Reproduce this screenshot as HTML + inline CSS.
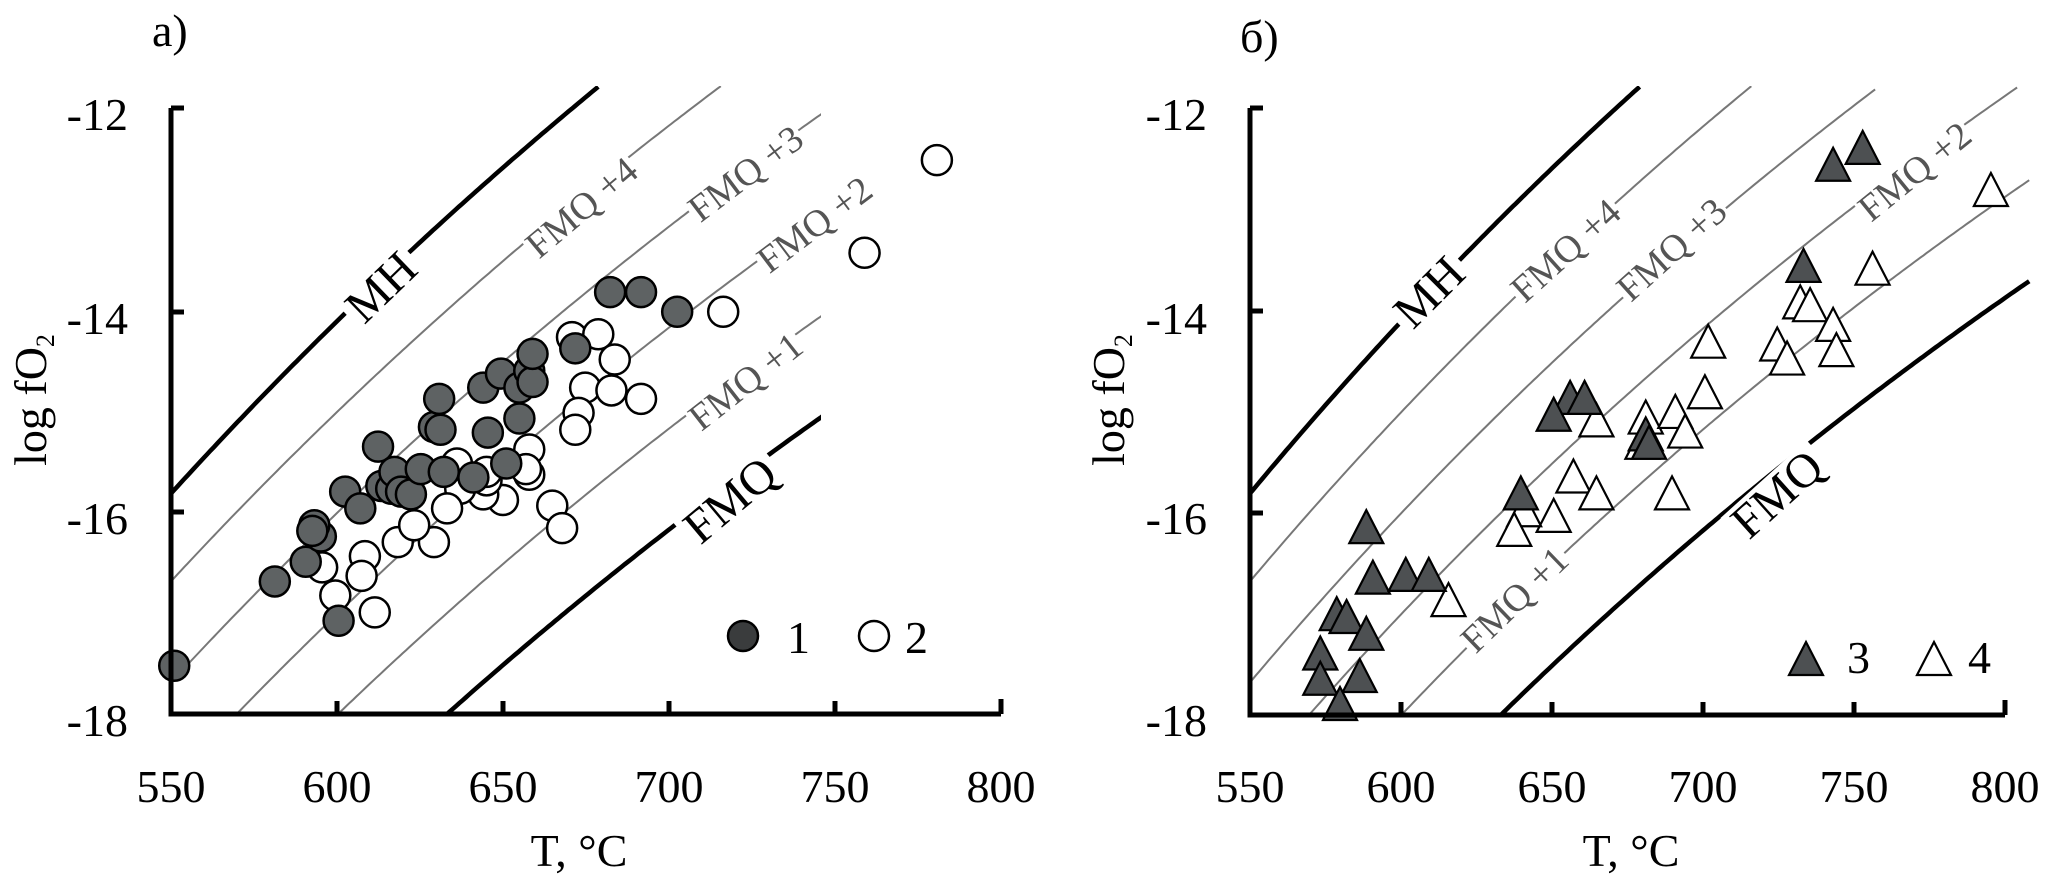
<!DOCTYPE html>
<html><head><meta charset="utf-8"><style>
html,body{margin:0;padding:0;background:#fff;overflow:hidden;width:2062px;height:882px;}
svg{display:block;}
</style></head><body>
<svg id="s" width="2062" height="882" viewBox="0 0 2062 882" xmlns="http://www.w3.org/2000/svg" font-family="'Liberation Serif','Times New Roman',serif">
<defs>
<clipPath id="ca"><rect x="171" y="86" width="650" height="628"/></clipPath>
<clipPath id="cb"><rect x="1250" y="86" width="790" height="629"/></clipPath>
</defs>
<g id="curves"></g>
<g id="labels" text-anchor="middle">
<g transform="translate(381 287) rotate(-44)"><rect x="-44" y="-20" width="88" height="40" fill="#fff"/><text y="16" font-size="48">MH</text></g>
<g transform="translate(582 208) rotate(-40)"><rect x="-68" y="-15" width="136" height="30" fill="#fff"/><text y="12" font-size="38" fill="#555">FMQ +4</text></g>
<g transform="translate(746 174) rotate(-37)"><rect x="-68" y="-15" width="136" height="30" fill="#fff"/><text y="12" font-size="38" fill="#555">FMQ +3</text></g>
<g transform="translate(815 225) rotate(-37)"><rect x="-68" y="-15" width="136" height="30" fill="#fff"/><text y="12" font-size="38" fill="#555">FMQ +2</text></g>
<g transform="translate(746 382) rotate(-38)"><rect x="-68" y="-15" width="136" height="30" fill="#fff"/><text y="12" font-size="38" fill="#555">FMQ +1</text></g>
<g transform="translate(730 500) rotate(-40)"><rect x="-58" y="-20" width="116" height="40" fill="#fff"/><text y="16" font-size="48">FMQ</text></g>
<g transform="translate(1429 292) rotate(-45)"><rect x="-44" y="-20" width="88" height="40" fill="#fff"/><text y="16" font-size="48">MH</text></g>
<g transform="translate(1566 251) rotate(-42)"><rect x="-68" y="-15" width="136" height="30" fill="#fff"/><text y="12" font-size="38" fill="#555">FMQ +4</text></g>
<g transform="translate(1672 250) rotate(-42)"><rect x="-68" y="-15" width="136" height="30" fill="#fff"/><text y="12" font-size="38" fill="#555">FMQ +3</text></g>
<g transform="translate(1915 172) rotate(-39)"><rect x="-68" y="-15" width="136" height="30" fill="#fff"/><text y="12" font-size="38" fill="#555">FMQ +2</text></g>
<g transform="translate(1515 600) rotate(-44)"><rect x="-68" y="-15" width="136" height="30" fill="#fff"/><text y="12" font-size="38" fill="#555">FMQ +1</text></g>
<g transform="translate(1777 494) rotate(-42)"><rect x="-58" y="-20" width="116" height="40" fill="#fff"/><text y="16" font-size="48">FMQ</text></g>
</g>
<g id="pts"></g>
<g id="axes" stroke="#000" stroke-width="5" fill="none">
<path d="M171 108 V714 H1001"/>
<path d="M171 108 H184 M171 312 H184 M171 512 H184 M337 714 V701 M503 714 V701 M669 714 V701 M835 714 V701 M1001 714 V699"/>
<path d="M1250 108 V715 H2005"/>
<path d="M1250 108 H1263 M1250 311 H1263 M1250 513 H1263 M1401 715 V702 M1552 715 V702 M1703 715 V702 M1854 715 V702 M2005 715 V700"/>
</g>
<g font-size="46" fill="#000">
<text x="128" y="130" text-anchor="end">-12</text>
<text x="128" y="334" text-anchor="end">-14</text>
<text x="128" y="534" text-anchor="end">-16</text>
<text x="128" y="736" text-anchor="end">-18</text>
<g text-anchor="middle">
<text x="171" y="802">550</text><text x="337" y="802">600</text><text x="503" y="802">650</text>
<text x="669" y="802">700</text><text x="835" y="802">750</text><text x="1001" y="802">800</text>
<text x="579" y="866">T, °C</text>
</g>
<text x="1207" y="130" text-anchor="end">-12</text>
<text x="1207" y="334" text-anchor="end">-14</text>
<text x="1207" y="534" text-anchor="end">-16</text>
<text x="1207" y="736" text-anchor="end">-18</text>
<g text-anchor="middle">
<text x="1250" y="802">550</text><text x="1401" y="802">600</text><text x="1552" y="802">650</text>
<text x="1703" y="802">700</text><text x="1854" y="802">750</text><text x="2005" y="802">800</text>
<text x="1631" y="866">T, °C</text>
</g>
<text transform="translate(46 400) rotate(-90)" text-anchor="middle">log fO<tspan font-size="26" dy="8">2</tspan></text>
<text transform="translate(1124 400) rotate(-90)" text-anchor="middle">log fO<tspan font-size="26" dy="8">2</tspan></text>
<text x="152" y="46">a)</text>
<text x="1240" y="52">б)</text>
<text x="787" y="653">1</text>
<text x="905" y="653">2</text>
<text x="1847" y="673">3</text>
<text x="1968" y="673">4</text>
</g>
</svg>
<script>
(function(){
var NS="http://www.w3.org/2000/svg";
var cg=document.getElementById('curves'), pg=document.getElementById('pts');
function el(n,a,p){var e=document.createElementNS(NS,n);for(var k in a)e.setAttribute(k,a[k]);p.appendChild(e);return e;}
var panels=[{x0:171,k:3.312,clip:'url(#ca)'},{x0:1250,k:3.02,clip:'url(#cb)'}];
function fmq(T,o){return -24050/(T+273.15)+8.53+o;}
function mh(T){return -24470/(T+273.15)+13.91;}
panels.forEach(function(P){
  var g=el('g',{'clip-path':P.clip,fill:'none'},cg);
  var curves=[[function(T){return mh(T);},'#000',4.5,679],
   [function(T){return fmq(T,4);},'#777',2,717],
   [function(T){return fmq(T,3);},'#777',2,757],
   [function(T){return fmq(T,2);},'#777',2,808],
   [function(T){return fmq(T,1);},'#777',2,808],
   [function(T){return fmq(T,0);},'#000',4.5,808]];
  curves.forEach(function(c){
    var d='';
    for(var T=545;T<=c[3];T+=1){
      var L=c[0](T); if(L>-11.78) break;
      var x=P.x0+(T-550)*P.k, y=108+(-12-L)*101;
      d+=(d?'L':'M')+x.toFixed(1)+' '+y.toFixed(1);
    }
    el('path',{d:d,stroke:c[1],'stroke-width':c[2]},g);
  });
});
var fa=[[265,1185],[418,1035],[465,1000],[488,955],[478,935],[475,945],[515,1105],[525,875],[548,905],[575,795],[580,865],[595,870],[600,840],[610,875],[625,880],[640,835],[660,760],[668,710],[670,765],[675,840],[720,850],[735,690],[742,770],[762,665],[770,825],[790,745],[790,690],[805,660],[810,680],[810,630],[875,620],[928,520],[975,520],[1030,555]];
var oa=[[1100,555],[1315,450],[1425,285],[870,600],[910,595],[935,640],[890,690],[930,695],[975,710],[880,735],[875,765],[805,800],[805,845],[840,900],[855,940],[765,890],[735,880],[700,870],[680,905],[660,965],[605,965],[630,935],[555,990],[550,1025],[510,1060],[490,1010],[570,1090],[695,825],[740,855],[740,840],[800,835]];
oa.forEach(function(p){el('circle',{cx:p[0]/1.521,cy:p[1]/1.78,r:15,fill:'#fff',stroke:'#000','stroke-width':2.5},pg);});
fa.forEach(function(p){el('circle',{cx:p[0]/1.521,cy:p[1]/1.78,r:15,fill:'#5e6263',stroke:'#000','stroke-width':2.5},pg);});
el('circle',{cx:743,cy:636,r:15,fill:'#3a3c3d',stroke:'#000','stroke-width':2.5},pg);
el('circle',{cx:874,cy:636,r:15,fill:'#fff',stroke:'#000','stroke-width':2.5},pg);
function tri(cx,cy,fill){var w=17,h=15;el('path',{d:'M'+cx+' '+(cy-h-3)+'L'+(cx+w)+' '+(cy+h)+'L'+(cx-w)+' '+(cy+h)+'Z',fill:fill,stroke:'#000','stroke-width':2.2},pg);}
var ob=[[1460,340],[1280,480],[1170,540],[1185,545],[1220,580],[1225,625],[1135,615],[1150,640],[1030,610],[1025,700],[935,745],[980,735],[995,770],[860,750],[930,790],[825,850],[860,880],[975,880],[795,920],[750,910],[735,945],[635,1070]];
var fb=[[1265,265],[1220,295],[1175,475],[820,710],[842,710],[795,740],[935,775],[940,790],[745,880],[510,940],[520,1030],[570,1025],[605,1025],[465,1095],[480,1100],[510,1130],[440,1165],[440,1210],[500,1205],[470,1255]];
ob.forEach(function(p){tri(1031+p[0]/1.521,p[1]/1.78,'#fff');});
fb.forEach(function(p){tri(1031+p[0]/1.521,p[1]/1.78,'#4d5052');});
tri(1806,660,'#4d5052');tri(1934,660,'#fff');
})();
</script>
</body></html>
